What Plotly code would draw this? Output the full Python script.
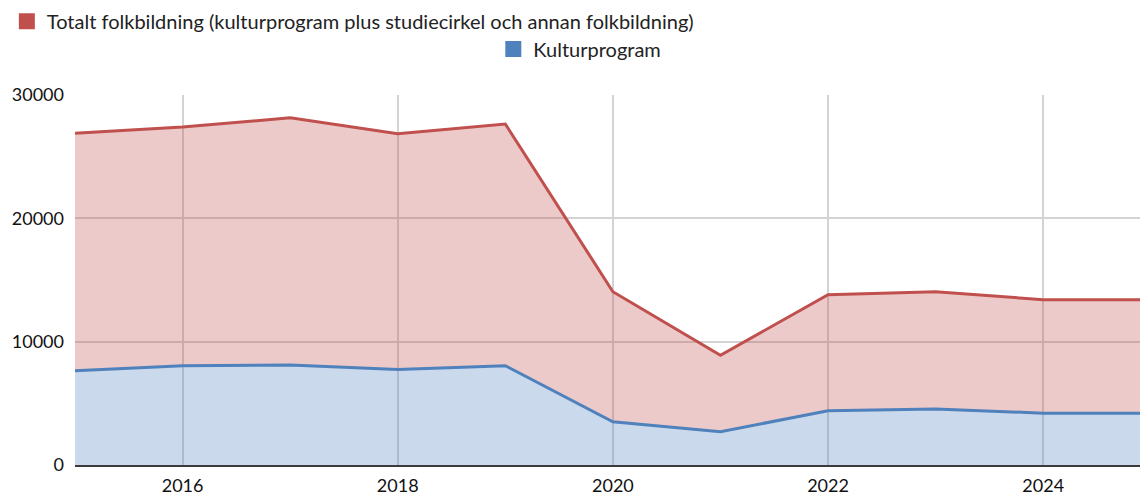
import plotly.graph_objects as go

years = [2015, 2016, 2017, 2018, 2019, 2020, 2021, 2022, 2023, 2024, 2025]
totalt = [26900, 27400, 28150, 26850, 27650, 14050, 8900, 13800, 14050, 13400, 13400]
kultur = [7650, 8050, 8100, 7750, 8050, 3500, 2700, 4400, 4550, 4200, 4200]

name_tot = "Totalt folkbildning (kulturprogram plus studiecirkel och annan folkbildning)"
name_kul = "Kulturprogram"

RED = "#c0504d"
BLUE = "#4f81bd"
FONT = "Lato"
FS = 20
TFS = 18

fig = go.Figure()
fig.add_trace(go.Scatter(x=years, y=kultur, mode="lines", fill="tozeroy",
                         line=dict(color=BLUE, width=3),
                         fillcolor="rgba(79,129,189,0.3)", showlegend=False,
                         hoverinfo="x+y"))
fig.add_trace(go.Scatter(x=years, y=totalt, mode="lines", fill="tonexty",
                         line=dict(color=RED, width=3),
                         fillcolor="rgba(192,80,77,0.3)", showlegend=False,
                         hoverinfo="x+y"))
# legend entries
fig.add_trace(go.Scatter(x=[None], y=[None], mode="markers", name=name_tot,
                         marker=dict(symbol="square", size=16, color=RED),
                         legend="legend"))
fig.add_trace(go.Scatter(x=[None], y=[None], mode="markers", name=name_kul,
                         marker=dict(symbol="square", size=16, color=BLUE),
                         legend="legend2"))

fig.update_layout(
    width=1140, height=495,
    margin=dict(l=75, r=0, t=95, b=30, autoexpand=False),
    paper_bgcolor="white", plot_bgcolor="white",
    font=dict(family=FONT, size=FS, color="#222"),
    legend=dict(x=-0.064, y=1.252, xanchor="left", yanchor="top",
                orientation="h", font=dict(size=FS, family=FONT),
                bgcolor="rgba(0,0,0,0)"),
    legend2=dict(x=0.474, y=1.177, xanchor="center", yanchor="top",
                 orientation="h", font=dict(size=FS, family=FONT),
                 bgcolor="rgba(0,0,0,0)"),
    xaxis=dict(range=[2015, 2024.9], tick0=2016, dtick=2, showgrid=True,
               gridcolor="#d3d3d3", gridwidth=1.5, zeroline=False,
               showline=True, linecolor="#3a3a3a", linewidth=2,
               ticks="", ticklabelstandoff=3, tickfont=dict(size=TFS, family=FONT, color="#111")),
    yaxis=dict(range=[0, 30000], tickvals=[0, 10000, 20000, 30000],
               tickformat="d",
               showgrid=True, gridcolor="#d3d3d3", gridwidth=1.5,
               zeroline=False, ticks="", ticklabelstandoff=10,
               tickfont=dict(size=TFS, family=FONT, color="#111")),
    hovermode="x",
)

fig.write_html("out.html", config={"displayModeBar": False},
               post_script="document.body.style.margin='0';document.body.style.overflow='hidden';")
